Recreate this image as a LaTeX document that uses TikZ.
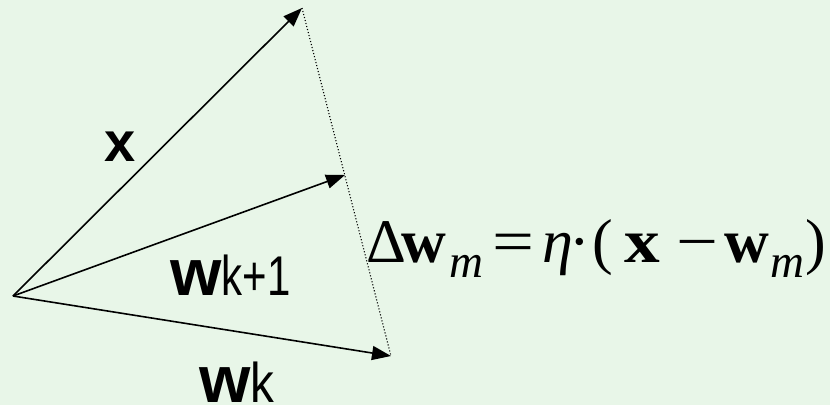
\documentclass[tikz,border=0pt]{standalone}
\usepackage{fontspec}
\usepackage{graphicx}
\setmainfont{Liberation Sans}
\newfontfamily\eqfont{Liberation Serif}
\usetikzlibrary{arrows.meta}
\definecolor{bgc}{RGB}{232,246,232}
\tikzset{
  vec/.style={line width=1.6pt,-{Triangle[length=19pt,width=14pt]}},
  guide/.style={line width=1.1pt,dash pattern=on 1.1pt off 2pt},
  lbl/.style={inner sep=0pt,anchor=base west,font=\fontsize{56}{56}\selectfont},
  eqg/.style={inner sep=0pt,anchor=base,font=\eqfont\fontsize{62}{62}\selectfont},
  eqs/.style={inner sep=0pt,anchor=base,font=\eqfont\fontsize{47}{47}\selectfont\itshape}
}
\begin{document}
\begin{tikzpicture}[x=1pt,y=-1pt]
\fill[bgc] (0,0) rectangle (830,405);
\useasboundingbox (0,0) rectangle (830,405);
\coordinate (O) at (13,296);
\coordinate (X) at (302,8);
\coordinate (W1) at (345,175);
\coordinate (Wk) at (391,356);
\draw[vec] (O) -- (X);
\draw[vec] (O) -- (W1);
\draw[vec] (O) -- (Wk);
\draw[guide] (X) -- (Wk);
% labels
\node[lbl,font=\fontsize{56}{56}\selectfont\bfseries] (lx) at (104,161) {x};
\node[lbl] (lw1) at (170,295) {{\fontsize{66}{66}\selectfont\bfseries w}\scalebox{0.75}[1]{k+1}};
\node[lbl] (lwk) at (199,402) {{\fontsize{66}{66}\selectfont\bfseries w}\scalebox{0.85}[1]{k}};
% formula
\node[eqg] (e1) at (386,262) {Δ};
\node[eqg] (e2) at (424,262) {\bfseries w};
\node[eqs] (e3) at (466,277) {m};
\node[eqg] (e4) at (513,262) {\scalebox{1.2}[1]{=}};
\node[eqg] (e5) at (558,262) {\itshape η};
\node[eqg] (e6) at (580,262) {·};
\node[eqg] (e7) at (603,262) {(};
\node[eqg] (e8) at (642,262) {\scalebox{1.15}[1]{\bfseries x}};
\node[eqg] (e9) at (697,262) {\scalebox{1.2}[1]{−}};
\node[eqg] (e10) at (747,262) {\bfseries w};
\node[eqs] (e11) at (787,277) {m};
\node[eqg] (e12) at (816,262) {)};
\end{tikzpicture}
\end{document}
